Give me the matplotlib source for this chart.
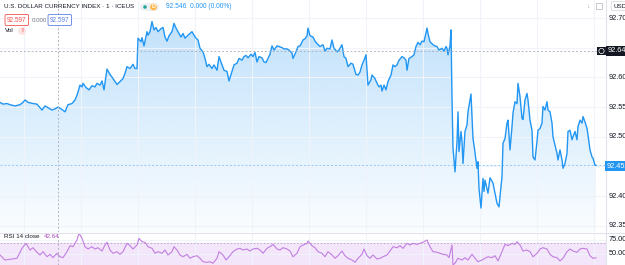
import matplotlib
matplotlib.use("Agg")
import matplotlib.pyplot as plt
from matplotlib.patches import FancyBboxPatch, Rectangle, Ellipse
import numpy as np

# DXY, 1-minute bars (x = bar number), close prices
bars = [0, 3, 7, 10, 15, 20, 23, 25, 28, 33, 37, 42, 45, 48, 52, 55, 58, 62, 65, 68,
        72, 75, 77, 80, 82, 83, 86, 89, 92, 95, 97, 100, 102, 104, 107, 110, 113, 117, 120, 123,
        125, 127, 130, 133, 135, 137, 138, 141, 142, 144, 147, 148, 150, 152, 154, 156, 158, 161, 163, 165,
        167, 169, 172, 174, 176, 178, 181, 183, 185, 188, 192, 194, 196, 198, 200, 203, 205, 207, 209, 212,
        214, 217, 219, 222, 224, 227, 229, 232, 234, 237, 239, 242, 244, 246, 248, 251, 253, 255, 257, 259,
        262, 264, 266, 268, 270, 272, 274, 277, 279, 282, 284, 287, 289, 292, 293, 296, 298, 300, 303, 305,
        307, 308, 310, 313, 315, 317, 320, 323, 325, 327, 330, 332, 334, 337, 339, 342, 344, 346, 348, 351,
        353, 356, 358, 360, 362, 364, 366, 368, 371, 372, 375, 377, 379, 381, 382, 384, 386, 388, 391, 393,
        395, 397, 399, 402, 404, 406, 407, 409, 412, 414, 416, 418, 420, 422, 424, 427, 428, 430, 433, 435,
        437, 439, 442, 444, 446, 447, 448, 450, 451, 452, 453, 455, 457, 458, 459, 461, 462, 463, 465, 467,
        468, 471, 473, 474, 477, 478, 479, 481, 483, 484, 485, 488, 490, 493, 497, 499, 502, 503, 505, 507,
        508, 510, 512, 513, 515, 517, 518, 520, 522, 523, 525, 527, 528, 530, 532, 533, 535, 537, 538, 540,
        542, 543, 545, 547, 548, 550, 552, 553, 555, 557, 558, 560, 562, 563, 565, 567, 568, 570, 572, 573,
        575, 577, 578, 580, 582, 583, 585, 587, 588, 590, 592, 593, 595, 596]
price = [92.558, 92.555, 92.556, 92.554, 92.552, 92.554, 92.558, 92.562, 92.558, 92.556, 92.555, 92.545, 92.552, 92.549, 92.545, 92.547, 92.550, 92.546, 92.542, 92.554,
         92.556, 92.562, 92.570, 92.587, 92.584, 92.590, 92.583, 92.579, 92.586, 92.584, 92.590, 92.587, 92.594, 92.579, 92.614, 92.605, 92.598, 92.588, 92.593, 92.598,
         92.607, 92.618, 92.615, 92.622, 92.615, 92.615, 92.666, 92.660, 92.667, 92.653, 92.677, 92.671, 92.677, 92.694, 92.680, 92.684, 92.677, 92.682, 92.684, 92.668,
         92.661, 92.670, 92.677, 92.691, 92.683, 92.677, 92.668, 92.674, 92.666, 92.671, 92.677, 92.671, 92.666, 92.663, 92.649, 92.643, 92.632, 92.618, 92.622, 92.615,
         92.621, 92.612, 92.635, 92.621, 92.612, 92.610, 92.594, 92.610, 92.621, 92.624, 92.632, 92.629, 92.635, 92.637, 92.633, 92.639, 92.635, 92.642, 92.626, 92.635,
         92.633, 92.626, 92.625, 92.632, 92.639, 92.653, 92.646, 92.653, 92.652, 92.650, 92.648, 92.648, 92.646, 92.641, 92.632, 92.643, 92.652, 92.653, 92.663, 92.665,
         92.670, 92.683, 92.670, 92.668, 92.661, 92.657, 92.652, 92.655, 92.644, 92.649, 92.648, 92.663, 92.649, 92.643, 92.646, 92.655, 92.635, 92.632, 92.618, 92.624,
         92.622, 92.605, 92.604, 92.609, 92.621, 92.629, 92.638, 92.587, 92.596, 92.604, 92.598, 92.590, 92.584, 92.587, 92.577, 92.587, 92.579, 92.593, 92.604, 92.621,
         92.618, 92.621, 92.629, 92.635, 92.633, 92.629, 92.612, 92.632, 92.635, 92.638, 92.652, 92.659, 92.655, 92.661, 92.660, 92.683, 92.674, 92.660, 92.655, 92.653,
         92.652, 92.646, 92.649, 92.644, 92.652, 92.649, 92.638, 92.653, 92.680, 92.565, 92.481, 92.441, 92.492, 92.542, 92.475, 92.509, 92.492, 92.455, 92.509, 92.520,
         92.542, 92.572, 92.497, 92.486, 92.447, 92.458, 92.413, 92.380, 92.430, 92.408, 92.427, 92.405, 92.431, 92.422, 92.388, 92.382, 92.433, 92.489, 92.497, 92.523,
         92.528, 92.478, 92.517, 92.540, 92.559, 92.556, 92.590, 92.568, 92.531, 92.529, 92.562, 92.573, 92.562, 92.528, 92.511, 92.466, 92.461, 92.492, 92.511, 92.514,
         92.523, 92.551, 92.545, 92.559, 92.545, 92.542, 92.523, 92.500, 92.486, 92.472, 92.461, 92.478, 92.461, 92.447, 92.455, 92.472, 92.509, 92.511, 92.495, 92.500,
         92.509, 92.495, 92.517, 92.528, 92.523, 92.534, 92.525, 92.514, 92.503, 92.478, 92.466, 92.464, 92.452, 92.452]

# RSI(14) of close
rsi_bars = [0, 5, 17, 22, 26, 30, 33, 37, 40, 43, 47, 50, 53, 57, 60, 63, 67, 70, 73, 77,
            79, 82, 85, 88, 92, 95, 98, 102, 105, 107, 110, 113, 117, 120, 123, 127, 130, 133, 137, 139,
            142, 145, 148, 152, 155, 158, 162, 165, 168, 172, 174, 177, 180, 183, 187, 190, 193, 197, 200, 203,
            207, 210, 213, 217, 219, 223, 226, 229, 233, 237, 240, 243, 247, 250, 253, 257, 260, 263, 267, 270,
            273, 277, 280, 283, 287, 290, 293, 297, 300, 303, 307, 308, 312, 315, 318, 322, 325, 328, 332, 335,
            338, 342, 345, 348, 352, 355, 358, 362, 364, 367, 370, 373, 377, 380, 383, 387, 390, 393, 397, 400,
            403, 407, 410, 413, 417, 420, 423, 427, 430, 433, 437, 440, 443, 447, 449, 452, 453, 455, 458, 462,
            465, 468, 472, 475, 478, 482, 485, 488, 492, 495, 498, 502, 505, 508, 512, 515, 517, 520, 523, 527,
            530, 533, 537, 540, 543, 547, 550, 553, 557, 560, 563, 567, 570, 573, 577, 580, 583, 587, 590, 593, 596]
rsi = [47.7, 38.7, 41.8, 59.6, 68.5, 56.6, 60.7, 52.5, 47.7, 53.6, 44.6, 48.9, 42.9, 50.7, 44.6, 42.9, 53.6, 64.3, 62.5, 74.5,
       86.4, 77.5, 62.5, 58.4, 62.5, 58.4, 60.7, 54.8, 65.5, 70.4, 56.6, 50.7, 53.6, 48.9, 53.6, 68.5, 64.3, 58.4, 65.5, 77.5,
       71.4, 70.4, 62.5, 59.6, 50.7, 53.6, 50.7, 56.6, 47.7, 53.6, 62.5, 56.6, 47.7, 44.6, 48.9, 41.8, 44.6, 46.4, 41.8, 35.7,
       34.6, 35.7, 32.9, 41.8, 53.6, 47.7, 38.7, 44.6, 53.6, 58.4, 59.6, 56.6, 58.4, 54.8, 58.4, 59.6, 56.6, 50.7, 59.6, 62.5,
       66.7, 58.4, 56.6, 60.7, 58.4, 54.8, 44.6, 50.7, 62.5, 65.5, 68.5, 72.7, 64.3, 60.7, 53.6, 50.7, 44.6, 53.6, 47.7, 41.8,
       46.4, 54.8, 46.4, 41.8, 38.7, 34.6, 41.8, 48.9, 58.4, 46.4, 41.8, 47.7, 40.5, 41.8, 44.6, 47.7, 54.8, 62.5, 60.7, 64.3,
       59.6, 68.5, 65.5, 68.5, 66.7, 68.5, 70.4, 74.5, 62.5, 53.6, 52.5, 50.7, 48.9, 47.7, 42.9, 65.5, 30.0, 32.9, 41.8, 38.7,
       42.9, 38.7, 48.9, 41.8, 35.7, 38.7, 41.8, 44.6, 42.9, 46.4, 37.1, 53.6, 66.7, 64.3, 68.5, 66.7, 71.4, 65.5, 54.8, 56.6,
       53.6, 44.6, 50.7, 58.4, 60.7, 58.4, 48.9, 44.6, 42.9, 37.1, 41.8, 53.6, 58.4, 54.8, 52.5, 58.4, 59.6, 58.4, 46.4, 41.8, 42.6]

price_ticks = [92.35, 92.40, 92.45, 92.50, 92.55, 92.60, 92.65, 92.70]
price_labels = ["92.35", "92.40", "", "92.50", "92.55", "92.60", "", "92.70"]
time_grid = [24, 81, 138, 195, 252, 309, 366, 423, 480, 537, 594]
cross_bar = 58
cross_price = 92.645
last_price = 92.452

W, H = 625, 265
BLUE = "#2196f3"
GRID = "#f0f3fa"
TXT = "#131722"
CROSS = "#b2b5be"
plt.rcParams['font.family'] = ['Liberation Sans', 'DejaVu Sans']

def fx(px):
    return px / W

def fy(py):
    return 1 - py / H

def dot(fig, cx, cy, r, **kw):
    # round marker in pixel units on the figure
    fig.add_artist(Ellipse((fx(cx), fy(cy)), 2 * r / W, 2 * r / H, transform=fig.transFigure, **kw))

fig = plt.figure(figsize=(W / 100, H / 100), dpi=100)
ax = fig.add_axes([0, fy(232), fx(606), 232 / H])
ax.set_xlim(0, 606)
ax.set_ylim(92.3397, 92.7303)

# gradient area under the line
poly = ax.fill_between(bars, price, 92.3397, facecolor="none", edgecolor="none")
grad = np.zeros((256, 1, 4))
grad[:, 0, 0] = 33 / 255
grad[:, 0, 1] = 150 / 255
grad[:, 0, 2] = 243 / 255
grad[:, 0, 3] = np.linspace(0.28, 0.02, 256)
im = ax.imshow(grad, aspect="auto", extent=[0, 606, 92.3397, max(price)], origin="upper", zorder=1)
im.set_clip_path(poly.get_paths()[0], transform=ax.transData)
ax.plot(bars, price, color=BLUE, lw=1.0, zorder=3)

ax.set_yticks(price_ticks)
ax.set_xticks(time_grid)
ax.grid(True, color=GRID, lw=0.8, zorder=0)
ax.tick_params(left=False, bottom=False, labelleft=False, labelbottom=False)
for s in ax.spines.values():
    s.set_visible(False)

ax.axvline(cross_bar, color=CROSS, lw=0.7, ls=(0, (2, 2)), zorder=4)
ax.axhline(cross_price, color=CROSS, lw=0.7, ls=(0, (2, 2)), zorder=4)
ax.axhline(last_price, color="#90caf9", lw=0.7, ls=(0, (2, 2)), zorder=2)

# RSI pane
rx = fig.add_axes([0, 0, fx(606), 32 / H])
rx.set_xlim(0, 606)
rx.set_ylim(29.8, 87)
rx.axhspan(30, 70, color="#f3e6fb", zorder=0)
rx.axhline(70, color="#b9a3c6", lw=0.6, ls=(0, (2, 2)))
rx.axhline(30, color="#b9a3c6", lw=0.6, ls=(0, (2, 2)))
rx.set_xticks(time_grid)
rx.set_yticks([50, 75])
rx.grid(True, color=GRID, lw=0.8, zorder=0)
rx.plot(rsi_bars, rsi, color="#c27ee0", lw=0.8, zorder=3)
rx.axvline(cross_bar, color=CROSS, lw=0.7, ls=(0, (2, 2)), zorder=4)
rx.tick_params(left=False, bottom=False, labelleft=False, labelbottom=False)
for s in rx.spines.values():
    s.set_visible(False)

# pane borders
fig.add_artist(plt.Line2D([fx(606), fx(606)], [0, 1], color="#e0e3eb", lw=0.8))
fig.add_artist(plt.Line2D([0, 1], [fy(232.5), fy(232.5)], color="#e0e3eb", lw=0.8))

# price scale labels
for v, lab in zip(price_ticks, price_labels):
    if lab:
        py = 18 + (92.70 - v) * 594
        fig.text(fx(609), fy(py), lab, fontsize=5.3, color=TXT, va="center", ha="left")
for v, lab in [(75, "75.00"), (50, "50.00")]:
    py = 239.7 + (75 - v) * 0.56
    fig.text(fx(609), fy(py), lab, fontsize=5.3, color=TXT, va="center", ha="left")

fig.text(fx(607), fy(166), "92.452", fontsize=5.3, color="white", va="center", ha="left",
         bbox=dict(boxstyle="square,pad=0.25", fc=BLUE, ec="none"))
fig.text(fx(608), fy(51), "92.645", fontsize=5.3, color="white", va="center", ha="left",
         bbox=dict(boxstyle="square,pad=0.25", fc=TXT, ec="none"))
fig.add_artist(Rectangle((fx(596.5), fy(55)), fx(10), 8 / H, fc=TXT, ec="none"))
dot(fig, 601.5, 51, 2.6, fc="none", ec="white", lw=0.5)

# header legend
fig.text(fx(4), fy(7), "U.S. DOLLAR CURRENCY INDEX · 1 · ICEUS", fontsize=4.5, color=TXT, va="center")
fig.add_artist(FancyBboxPatch((fx(140), fy(11)), fx(19), 8 / H,
                              boxstyle="round,pad=0,rounding_size=0.012", fc="#eef1f3", ec="none"))
dot(fig, 145, 7, 1.8, fc="#26a69a", ec="none")
dot(fig, 153.5, 7, 3.4, fc="#ffb74d", ec="none")
fig.text(fx(153.5), fy(7), "D", fontsize=4.0, color="white", va="center", ha="center", weight="bold")
fig.text(fx(166), fy(7), "92.546  0.000 (0.00%)", fontsize=4.8, color=BLUE, va="center")
fig.text(fx(7), fy(20), "92.597", fontsize=4.7, color="#ef5350", va="center",
         bbox=dict(boxstyle="round,pad=0.3,rounding_size=0.2", fc="white", ec="#ef5350", lw=0.6))
fig.text(fx(32), fy(20), "0.000", fontsize=4.4, color="#787b86", va="center")
fig.text(fx(50), fy(20), "92.597", fontsize=4.7, color="#5b7fe8", va="center",
         bbox=dict(boxstyle="round,pad=0.3,rounding_size=0.2", fc="white", ec="#5b7fe8", lw=0.6))
fig.text(fx(5), fy(31), "Vol", fontsize=4.6, color=TXT, va="center")
dot(fig, 22, 31, 3.8, fc="#fde0e0", ec="none")
fig.text(fx(22), fy(31), "!", fontsize=4.4, color="#ef5350", va="center", ha="center", weight="bold")

# top-right controls
fig.text(fx(613), fy(6), "USD", fontsize=4.4, color=TXT, va="center",
         bbox=dict(boxstyle="round,pad=0.3,rounding_size=0.2", fc="white", ec="#d1d4dc", lw=0.5))
fig.text(fx(588), fy(6), "↓", fontsize=5, color="#b2b5be", va="center", ha="center")
fig.add_artist(Rectangle((fx(596), fy(9)), fx(6), 6 / H, fc="none", ec="#b2b5be", lw=0.5))

# RSI legend
fig.text(fx(4), fy(236), "RSI 14 close", fontsize=4.5, color=TXT, va="center")
fig.text(fx(44), fy(236), "42.64", fontsize=4.5, color="#ab47bc", va="center")

fig.savefig("out.png", dpi=100)
